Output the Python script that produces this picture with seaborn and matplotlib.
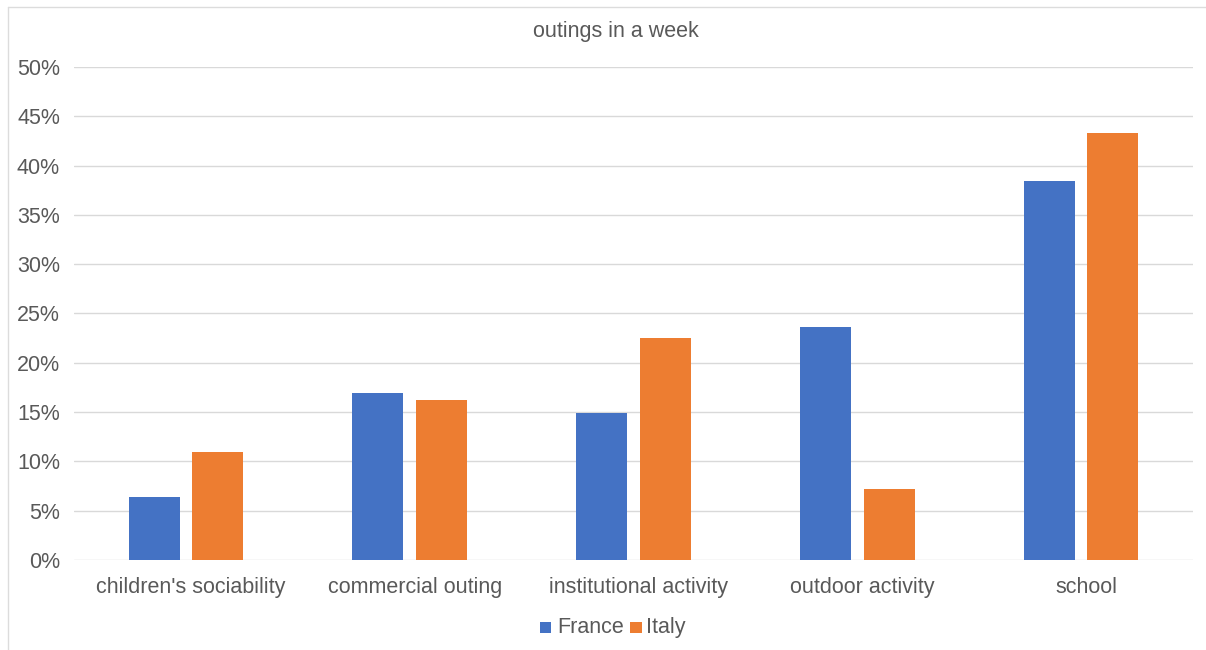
import matplotlib
matplotlib.use("Agg")
import matplotlib.pyplot as plt
import matplotlib.patches as mpatches
import matplotlib.transforms as mtransforms
from matplotlib.lines import Line2D
import seaborn as sns
import pandas as pd
from matplotlib.ticker import PercentFormatter, MultipleLocator

categories = ["children's sociability", "commercial outing", "institutional activity",
              "outdoor activity", "school"]
france = [0.064, 0.169, 0.149, 0.236, 0.384]
italy = [0.110, 0.162, 0.225, 0.072, 0.433]
series = ["France", "Italy"]
colors = ["#4472C4", "#ED7D31"]

df = pd.DataFrame({
    "category": categories * 2,
    "share": france + italy,
    "country": [series[0]] * len(categories) + [series[1]] * len(categories),
})

sns.set_theme(style="white")
plt.rcParams["font.family"] = ["Liberation Sans", "DejaVu Sans"]
text_color = "#595959"
fs = 15.5

W, H = 1206, 650
fig = plt.figure(figsize=(W / 100, H / 100), dpi=100)
ax = fig.add_axes([74 / W, 90 / H, 1119 / W, 493 / H])

sns.barplot(data=df, x="category", y="share", hue="country", order=categories,
            hue_order=series, palette=colors, saturation=1, width=0.568, gap=0.2,
            edgecolor="none", ax=ax, legend=False)

ax.set_ylim(0, 0.5)
ax.set_xlim(-0.5, len(categories) - 0.5)
ax.yaxis.set_major_locator(MultipleLocator(0.05))
ax.yaxis.set_major_formatter(PercentFormatter(1.0, decimals=0))
ax.grid(axis="y", color="#D9D9D9", linewidth=1)
ax.set_axisbelow(True)
for s in ax.spines.values():
    s.set_visible(False)
ax.set_xlabel("")
ax.set_ylabel("")
ax.tick_params(axis="y", length=0, pad=10, labelsize=fs, labelcolor=text_color)
ax.tick_params(axis="x", length=0, pad=12, labelsize=fs, labelcolor=text_color)

# nudge category labels slightly to the right
shift = mtransforms.ScaledTranslation(5 / 100, 0, fig.dpi_scale_trans)
for lbl in ax.get_xticklabels():
    lbl.set_transform(lbl.get_transform() + shift)


def px(x, y):
    """Pixel position (from top-left) to figure fraction."""
    return x / W, 1 - y / H


fig.text(*px(616, 32), "outings in a week", ha="center", va="center",
         fontsize=fs, color=text_color)

# legend: small colour squares followed by series names on a shared baseline
legend_items = [(539.5, 557, series[0], colors[0]), (630, 646, series[1], colors[1])]
for sq_x, txt_x, label, c in legend_items:
    x0, y0 = px(sq_x, 633)
    fig.add_artist(mpatches.Rectangle((x0, y0), 11.5 / W, 11.5 / H,
                                      transform=fig.transFigure, color=c, linewidth=0))
    fig.text(*px(txt_x, 633.3), label, ha="left", va="baseline", fontsize=fs,
             color=text_color)

# thin frame along the top and left edges
frame = "#DCDCDC"
fig.add_artist(Line2D([8 / W, 1], [1 - 7 / H, 1 - 7 / H], transform=fig.transFigure,
                      color=frame, linewidth=1))
fig.add_artist(Line2D([8 / W, 8 / W], [0, 1 - 7 / H], transform=fig.transFigure,
                      color=frame, linewidth=1))

fig.savefig("out.png", dpi=100, facecolor="white")
